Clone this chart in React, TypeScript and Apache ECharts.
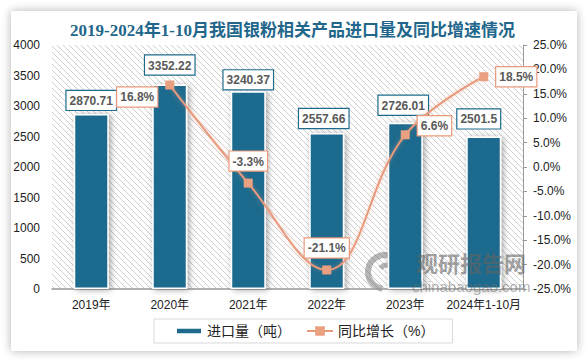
import React, { useEffect, useRef } from "react";
import * as echarts from "echarts";

const categories = ["2019年", "2020年", "2021年", "2022年", "2023年", "2024年1-10月"];
const importVolume = [2870.71, 3352.22, 3240.37, 2557.66, 2726.01, 2501.5];
const yoyGrowth: (number | null)[] = [null, 16.8, -3.3, -21.1, 6.6, 18.5];
const barLabelOffset = [[0, 0], [0, -6], [0, 2], [-3, -1], [-2, -4], [-5, -4]];
const growthLabelPos = ["left", "left", "top", "top", "right", "right"];
const growthLabelOffset = [[0, 0], [0, 12], [0, 0], [0, 0], [0, -9], [0, 0]];

const BAR = "#1E6A8D";
const LINE = "#EA9A7B";

function makeHatch(): string {
  const c = document.createElement("canvas");
  c.width = 6;
  c.height = 6;
  const ctx = c.getContext("2d")!;
  ctx.fillStyle = "#ffffff";
  ctx.fillRect(0, 0, 6, 6);
  ctx.strokeStyle = "#cfcfcf";
  ctx.lineWidth = 1;
  ctx.beginPath();
  ctx.moveTo(0, 0);
  ctx.lineTo(6, 6);
  ctx.moveTo(-3, 3);
  ctx.lineTo(3, 9);
  ctx.moveTo(3, -3);
  ctx.lineTo(9, 3);
  ctx.stroke();
  return c.toDataURL();
}

export default function App() {
  const ref = useRef<HTMLDivElement>(null);
  useEffect(() => {
    document.body.style.margin = "0";
    const chart = echarts.init(ref.current!, null, { renderer: "svg" });
    const hatch = makeHatch();
    const font = "'Liberation Sans', 'Noto Sans CJK SC', sans-serif";
    chart.setOption({
      animation: false,
      textStyle: { fontFamily: font },
      title: {
        text: "2019-2024年1-10月我国银粉相关产品进口量及同比增速情况",
        left: "center",
        top: 17,
        textStyle: {
          fontFamily: "'Liberation Serif', 'Noto Sans CJK SC', serif",
          fontSize: 17,
          fontWeight: "bold",
          color: "#22678B",
        },
      },
      grid: {
        left: 52,
        right: 62,
        top: 45,
        bottom: 71,
        show: true,
        borderWidth: 0,
        backgroundColor: { image: hatch, repeat: "repeat" },
      },
      legend: {
        left: 154,
        top: 319,
        padding: [5, 18, 5, 21],
        itemGap: 15,
        itemWidth: 26,
        itemHeight: 12,
        borderColor: "#d9d9d9",
        borderWidth: 1,
        textStyle: { fontSize: 14, color: "#222", fontFamily: font },
        data: [
          { name: "进口量（吨）", icon: "path://M0,0h24v6h-24z" },
          { name: "同比增长（%）" },
        ],
      },
      xAxis: {
        type: "category",
        data: categories,
        axisLine: { lineStyle: { color: "#999", width: 1.5 } },
        axisTick: { show: false },
        axisLabel: { fontSize: 12, color: "#222", margin: 10, interval: 0 },
      },
      yAxis: [
        {
          type: "value",
          min: 0,
          max: 4000,
          interval: 500,
          axisLine: { show: false },
          axisTick: { show: false },
          splitLine: { show: false },
          axisLabel: { fontSize: 12, color: "#222", margin: 12, formatter: (v: number) => String(v) },
        },
        {
          type: "value",
          min: -25,
          max: 25,
          interval: 5,
          position: "right",
          axisLine: { show: true, lineStyle: { color: "#999" } },
          axisTick: { show: true, length: 4, lineStyle: { color: "#999" } },
          splitLine: { show: false },
          axisLabel: {
            fontSize: 12,
            color: "#222",
            margin: 10,
            formatter: (v: number) => v.toFixed(1) + "%",
          },
        },
      ],
      series: [
        {
          name: "进口量（吨）",
          type: "bar",
          data: importVolume.map((v, i) => ({ value: v, label: { offset: barLabelOffset[i] } })),
          barWidth: 35,
          itemStyle: {
            color: BAR,
            borderColor: "#fff",
            borderWidth: 1.5,
            shadowBlur: 6,
            shadowColor: "rgba(0,0,0,0.35)",
            shadowOffsetX: 2,
            shadowOffsetY: 1,
          },
          label: {
            show: true,
            position: "top",
            distance: 4,
            fontSize: 12,
            fontWeight: "bold",
            color: "#595959",
            backgroundColor: "#fff",
            borderColor: BAR,
            borderWidth: 1.2,
            padding: [4, 3, 3, 3],
          },
        },
        {
          name: "同比增长（%）",
          type: "line",
          yAxisIndex: 1,
          smooth: 0.4,
          data: yoyGrowth.map((v, i) => ({
            value: v,
            label: {
              position: growthLabelPos[i],
              offset: growthLabelOffset[i],
            },
          })),
          symbol: "rect",
          symbolSize: 9,
          lineStyle: {
            color: LINE,
            width: 2,
            shadowBlur: 4,
            shadowColor: "rgba(234,154,123,0.5)",
          },
          itemStyle: { color: "#E9A080" },
          label: {
            show: true,
            distance: 8,
            formatter: (p: any) => p.value + "%",
            fontSize: 12,
            fontWeight: "bold",
            color: "#595959",
            backgroundColor: "#fff",
            borderColor: LINE,
            borderWidth: 1.2,
            padding: [4, 3, 3, 3],
          },
        },
      ],
      graphic: [
        {
          type: "group",
          left: 365,
          top: 252,
          silent: true,
          z: 100,
          children: [
            {
              type: "arc",
              shape: { cx: 22, cy: 19, r: 17, startAngle: Math.PI * 0.55, endAngle: Math.PI * 1.95 },
              style: { stroke: "rgba(110,110,110,0.5)", lineWidth: 6, fill: "none" },
            },
            {
              type: "arc",
              shape: { cx: 24, cy: 20, r: 8, startAngle: Math.PI * 1.2, endAngle: Math.PI * 2.4 },
              style: { stroke: "rgba(110,110,110,0.5)", lineWidth: 5, fill: "none" },
            },
          ],
        },
        {
          type: "text",
          left: 416,
          top: 251,
          silent: true,
          z: 100,
          style: {
            text: "观研报告网",
            font: "bold 22px 'Noto Sans CJK SC', sans-serif",
            fill: "rgba(100,100,100,0.6)",
          },
        },
        {
          type: "text",
          left: 412,
          top: 279,
          silent: true,
          z: 100,
          style: {
            text: "chinabaogao.com",
            font: "15px 'Liberation Sans', sans-serif",
            fill: "rgba(110,110,110,0.55)",
          },
        },
      ],
    });
    return () => chart.dispose();
  }, []);
  return (
    <div style={{ position: "relative", width: 585, height: 360, background: "#fff", overflow: "hidden" }}>
      <div
        style={{
          position: "absolute",
          left: 11,
          top: 11,
          width: 566,
          height: 340,
          background: "#fff",
          boxShadow: "0 0 9px rgba(0,0,0,0.3)",
        }}
      />
      <div ref={ref} style={{ position: "absolute", left: 0, top: 0, width: 585, height: 360 }} />
    </div>
  );
}
